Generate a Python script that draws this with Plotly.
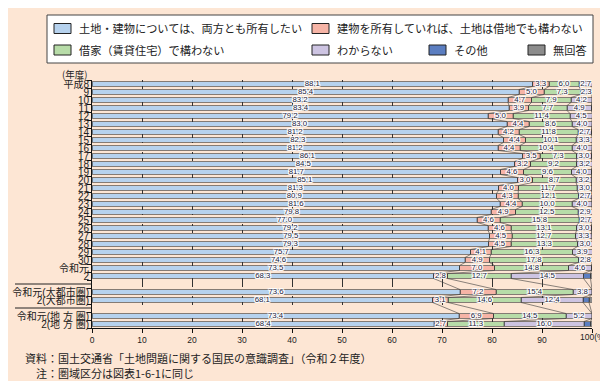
import plotly.graph_objects as go

# ---------------- data ----------------
row_labels = ["平成8", "9", "10", "11", "12", "13", "14", "15", "16", "17", "18", "19",
              "20", "21", "22", "23", "24", "25", "26", "27", "28", "29", "30", "令和元", "2",
              "令和元(大都市圏)", "2(大都市圏)", "令和元(地 方 圏)", "2(地 方 圏)"]
group_sizes = [25, 2, 2]

own_both = [88.1, 85.4, 83.2, 83.4, 79.2, 83.0, 81.2, 82.3, 81.2, 86.1, 84.5, 81.7,
            85.1, 81.3, 80.9, 81.6, 79.8, 77.0, 79.2, 79.5, 79.3, 75.7, 74.6, 73.5, 68.3,
            73.6, 68.1, 73.4, 68.4]
own_building = [3.3, 5.0, 4.7, 3.9, 5.0, 4.4, 4.2, 4.4, 4.4, 3.5, 3.2, 4.6,
                3.0, 4.0, 4.3, 4.4, 4.9, 4.6, 4.6, 4.5, 4.5, 4.1, 4.9, 7.0, 2.8,
                7.2, 3.1, 6.9, 2.7]
rent_ok = [6.0, 7.3, 7.9, 7.7, 11.4, 8.6, 11.8, 10.1, 10.4, 7.3, 9.2, 9.6,
           8.7, 11.7, 12.1, 10.0, 12.5, 15.8, 13.1, 12.7, 13.3, 16.3, 17.8, 14.8, 12.7,
           15.4, 14.6, 14.5, 11.3]
unknown = [2.7, 2.3, 4.2, 4.9, 4.5, 4.0, 2.7, 3.3, 4.0, 3.0, 3.2, 4.0,
           3.2, 3.0, 2.7, 4.0, 2.9, 2.7, 3.0, 3.3, 3.0, 3.9, 2.8, 4.6, 14.5,
           3.8, 12.4, 5.2, 16.0]
other = [0.0] * 24 + [1.4, 0.0, 1.2, 0.0, 1.3]
no_answer = [0.0] * 24 + [0.3, 0.0, 0.6, 0.0, 0.3]

series_names = ["土地・建物については、両方とも所有したい", "建物を所有していれば、土地は借地でも構わない",
                "借家（賃貸住宅）で構わない", "わからない", "その他", "無回答"]
series_vals = [own_both, own_building, rent_ok, unknown, other, no_answer]
colors = ["#B6D2EE", "#F6B4A6", "#B7DCA8", "#CDC4E2", "#5B7EC1", "#8C8C8C"]
labelled = [True, True, True, True, False, False]

x_ticks = list(range(0, 101, 10))
x_ticktext = [str(v) for v in x_ticks[:-1]] + [""]

# ---------------- layout helpers ----------------
W, H = 608, 381
L, R, T, B = 84, 24, 72, 61
PW, PH = W - L - R, H - T - B


def px(x):
    return (x - L) / PW


def py(y):
    return (H - B - y) / PH


# slot positions: one empty slot between groups
pos = []
slot = 0
for gi, n in enumerate(group_sizes):
    for _ in range(n):
        pos.append(slot)
        slot += 1
    if gi < len(group_sizes) - 1:
        slot += 1
n_slots = slot
sep_slots = []
s = 0
for n in group_sizes[:-1]:
    s += n
    sep_slots.append(s)
    s += 1

BW = 0.62
fig = go.Figure()

for name, vals, col in zip(series_names, series_vals, colors):
    fig.add_trace(go.Bar(
        x=vals, y=pos, orientation="h", name=name, width=BW,
        marker=dict(color=col, line=dict(color="#333333", width=0.6)),
        showlegend=False, hoverinfo="skip"))

# series (connector) lines
nrows = len(pos)
cum = [0.0] * nrows
cums = []
for vals in series_vals:
    cum = [c + v for c, v in zip(cum, vals)]
    cums.append(list(cum))
for k in range(len(series_vals) - 1):
    xs, ys = [], []
    for i in range(nrows):
        xs += [cums[k][i], cums[k][i]]
        ys += [pos[i] - BW / 2, pos[i] + BW / 2]
    fig.add_trace(go.Scatter(x=xs, y=ys, mode="lines",
                             line=dict(color="#3a3a3a", width=0.6),
                             showlegend=False, hoverinfo="skip"))

# value labels
shadow = ("1px 0px 0px white, -1px 0px 0px white, 0px 1px 0px white, 0px -1px 0px white, "
          "1px 1px 0px white, -1px -1px 0px white, 1px -1px 0px white, -1px 1px 0px white")
start = [0.0] * nrows
for vals, lab in zip(series_vals, labelled):
    if lab:
        fig.add_trace(go.Scatter(
            x=[s0 + v / 2 for s0, v in zip(start, vals)], y=pos, mode="text",
            text=[f"{v:.1f}" for v in vals],
            textfont=dict(family="Liberation Sans, Arial", size=7.8, color="#1c1c3c", shadow=shadow),
            cliponaxis=False, showlegend=False, hoverinfo="skip"))
    start = [s0 + v for s0, v in zip(start, vals)]

shapes = []
annotations = []
# separators in label column
for ss in sep_slots:
    shapes.append(dict(type="line", xref="paper", yref="y", x0=px(7), x1=0, y0=ss, y1=ss,
                       line=dict(color="#222222", width=1)))

# legend box
shapes.append(dict(type="rect", xref="paper", yref="paper", x0=px(39), x1=px(585),
                   y0=py(55), y1=py(7), fillcolor="white", line=dict(color="#444444", width=1)))
leg_pos = [(46, 20.5), (304, 20.5), (46, 42), (304, 42), (421, 42), (520, 42)]
for (lx, ly), name, col in zip(leg_pos, series_names, colors):
    shapes.append(dict(type="rect", xref="paper", yref="paper", x0=px(lx), x1=px(lx + 17),
                       y0=py(ly + 5), y1=py(ly - 5), fillcolor=col,
                       line=dict(color="#222222", width=1)))
    annotations.append(dict(xref="paper", yref="paper", x=px(lx + 23), y=py(ly), text=name,
                            showarrow=False, xanchor="left", yanchor="middle",
                            font=dict(family="Noto Sans CJK JP", size=11.2, color="#222222")))

annotations.append(dict(xref="paper", yref="paper", x=px(66), y=py(66), text="(年度)",
                        showarrow=False, xanchor="center", yanchor="middle",
                        font=dict(family="Noto Sans CJK JP", size=9.5, color="#222222")))
annotations.append(dict(xref="paper", yref="paper", x=px(570), y=py(329), text="100(%)",
                        showarrow=False, xanchor="left", yanchor="middle",
                        font=dict(family="Liberation Sans, Arial", size=8.5, color="#222222")))
annotations.append(dict(xref="paper", yref="paper", x=px(15), y=py(350),
                        text="資料：国土交通省「土地問題に関する国民の意識調査」（令和２年度）",
                        showarrow=False, xanchor="left", yanchor="middle",
                        font=dict(family="Noto Sans CJK JP", size=11, color="#222222")))
annotations.append(dict(xref="paper", yref="paper", x=px(26), y=py(365),
                        text="注：圏域区分は図表1-6-1に同じ",
                        showarrow=False, xanchor="left", yanchor="middle",
                        font=dict(family="Noto Sans CJK JP", size=11, color="#222222")))

fig.update_layout(
    width=W, height=H, margin=dict(l=L, r=R, t=T, b=B, autoexpand=False),
    paper_bgcolor="#FDE6D4", plot_bgcolor="#FDE6D4",
    barmode="stack",
    shapes=shapes, annotations=annotations,
    font=dict(family="Noto Sans CJK JP", color="#222222"),
    xaxis=dict(range=[0, 100], tickvals=x_ticks, ticktext=x_ticktext, automargin=False,
               showline=True, linecolor="#111111", linewidth=1,
               ticks="outside", ticklen=4, tickcolor="#111111",
               showgrid=True, gridcolor="#333333", gridwidth=0.7, griddash="dash",
               zeroline=False, tickfont=dict(family="Liberation Sans, Arial", size=8.5, color="#222222")),
    yaxis=dict(range=[n_slots - 0.5, -0.5], tickvals=pos, ticktext=row_labels, automargin=False,
               showline=True, linecolor="#111111", linewidth=1, ticks="",
               showgrid=False, zeroline=False,
               minor=dict(tickvals=[p + 0.5 for p in range(-1, n_slots)], ticks="outside",
                          ticklen=4, tickcolor="#111111", showgrid=False),
               tickfont=dict(family="Liberation Sans, Noto Sans CJK JP", size=10, color="#222222")),
)

fig.write_html("out.html")
